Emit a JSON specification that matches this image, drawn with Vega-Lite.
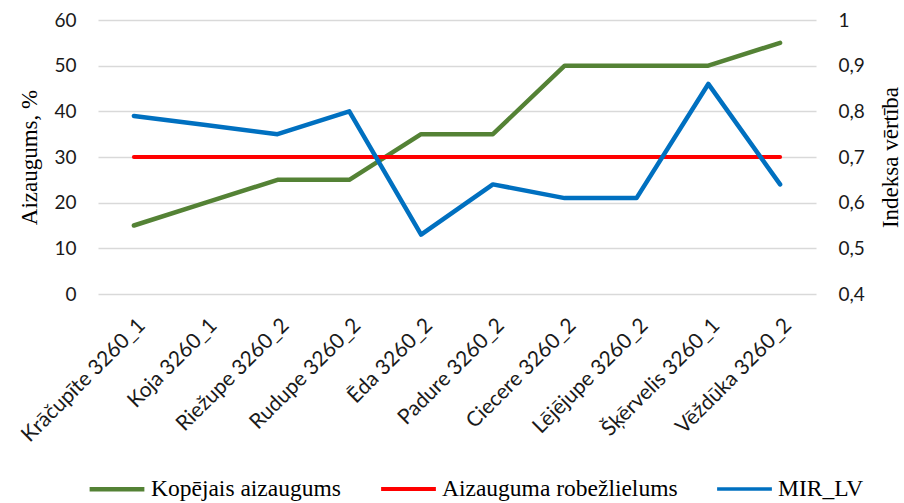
{
  "$schema": "https://vega.github.io/schema/vega-lite/v6.json",
  "autosize": {"type": "none"},
  "width": 718,
  "height": 274,
  "padding": {"left": 98, "top": 20, "right": 88, "bottom": 209},
  "background": "white",
  "data": {
    "values": [
      {"site": "Krāčupīte 3260_1", "series": "Kopējais aizaugums", "value": 15},
      {"site": "Koja 3260_1", "series": "Kopējais aizaugums", "value": 20},
      {"site": "Riežupe 3260_2", "series": "Kopējais aizaugums", "value": 25},
      {"site": "Rudupe 3260_2", "series": "Kopējais aizaugums", "value": 25},
      {"site": "Ēda 3260_2", "series": "Kopējais aizaugums", "value": 35},
      {"site": "Padure 3260_2", "series": "Kopējais aizaugums", "value": 35},
      {"site": "Ciecere 3260_2", "series": "Kopējais aizaugums", "value": 50},
      {"site": "Lējējupe 3260_2", "series": "Kopējais aizaugums", "value": 50},
      {"site": "Šķērvelis 3260_1", "series": "Kopējais aizaugums", "value": 50},
      {"site": "Vēždūka 3260_2", "series": "Kopējais aizaugums", "value": 55},
      {"site": "Krāčupīte 3260_1", "series": "Aizauguma robežlielums", "value": 30},
      {"site": "Koja 3260_1", "series": "Aizauguma robežlielums", "value": 30},
      {"site": "Riežupe 3260_2", "series": "Aizauguma robežlielums", "value": 30},
      {"site": "Rudupe 3260_2", "series": "Aizauguma robežlielums", "value": 30},
      {"site": "Ēda 3260_2", "series": "Aizauguma robežlielums", "value": 30},
      {"site": "Padure 3260_2", "series": "Aizauguma robežlielums", "value": 30},
      {"site": "Ciecere 3260_2", "series": "Aizauguma robežlielums", "value": 30},
      {"site": "Lējējupe 3260_2", "series": "Aizauguma robežlielums", "value": 30},
      {"site": "Šķērvelis 3260_1", "series": "Aizauguma robežlielums", "value": 30},
      {"site": "Vēždūka 3260_2", "series": "Aizauguma robežlielums", "value": 30},
      {"site": "Krāčupīte 3260_1", "series": "MIR_LV", "value": 0.79},
      {"site": "Koja 3260_1", "series": "MIR_LV", "value": 0.77},
      {"site": "Riežupe 3260_2", "series": "MIR_LV", "value": 0.75},
      {"site": "Rudupe 3260_2", "series": "MIR_LV", "value": 0.80},
      {"site": "Ēda 3260_2", "series": "MIR_LV", "value": 0.53},
      {"site": "Padure 3260_2", "series": "MIR_LV", "value": 0.64},
      {"site": "Ciecere 3260_2", "series": "MIR_LV", "value": 0.61},
      {"site": "Lējējupe 3260_2", "series": "MIR_LV", "value": 0.61},
      {"site": "Šķērvelis 3260_1", "series": "MIR_LV", "value": 0.86},
      {"site": "Vēždūka 3260_2", "series": "MIR_LV", "value": 0.64}
    ]
  },
  "config": {
    "view": {"stroke": null},
    "axis": {
      "domain": false,
      "ticks": false,
      "labelFont": "Lato",
      "labelColor": "#1a1a1a",
      "titleFont": "Liberation Serif",
      "titleFontWeight": "normal",
      "titleColor": "#000000",
      "titleFontSize": 23
    }
  },
  "layer": [
    {
      "transform": [{"filter": "datum.series !== 'MIR_LV'"}],
      "mark": {"type": "line", "strokeCap": "round", "strokeJoin": "round"},
      "encoding": {
        "x": {
          "field": "site",
          "type": "ordinal",
          "sort": null,
          "axis": {
            "title": null,
            "labelAngle": -45,
            "labelFontSize": 21,
            "labelPadding": 20,
            "grid": false
          }
        },
        "y": {
          "field": "value",
          "type": "quantitative",
          "scale": {"domain": [0, 60]},
          "axis": {
            "title": "Aizaugums, %",
            "values": [0, 10, 20, 30, 40, 50, 60],
            "labelFontSize": 19,
            "labelPadding": 22,
            "titlePadding": 12,
            "grid": true,
            "gridColor": "#D9D9D9",
            "gridWidth": 1.5
          }
        },
        "color": {
          "field": "series",
          "type": "nominal",
          "scale": {
            "domain": ["Kopējais aizaugums", "Aizauguma robežlielums", "MIR_LV"],
            "range": ["#548235", "#FF0000", "#0070C0"]
          },
          "legend": {
            "title": null,
            "orient": "none",
            "legendX": -11,
            "legendY": 439,
            "direction": "horizontal",
            "symbolType": "stroke",
            "symbolSize": 3000,
            "symbolStrokeWidth": 5,
            "labelFont": "Liberation Serif",
            "labelFontSize": 23.5,
            "labelColor": "#000000",
            "labelOffset": 4,
            "columnPadding": 32,
            "labelLimit": 400
          }
        },
        "strokeWidth": {
          "field": "series",
          "type": "nominal",
          "scale": {
            "domain": ["Kopējais aizaugums", "Aizauguma robežlielums", "MIR_LV"],
            "range": [4.5, 3.5, 4.5]
          },
          "legend": null
        }
      }
    },
    {
      "transform": [{"filter": "datum.series === 'MIR_LV'"}],
      "mark": {"type": "line", "strokeCap": "round", "strokeJoin": "round", "strokeWidth": 4.5},
      "encoding": {
        "x": {"field": "site", "type": "ordinal", "sort": null},
        "y": {
          "field": "value",
          "type": "quantitative",
          "scale": {"domain": [0.4, 1]},
          "axis": {
            "orient": "right",
            "title": "Indeksa vērtība",
            "titleAngle": 270,
            "values": [0.4, 0.5, 0.6, 0.7, 0.8, 0.9, 1],
            "labelExpr": "replace(format(datum.value, '.1~f'), '.', ',')",
            "labelFontSize": 19,
            "labelPadding": 22,
            "titlePadding": 38,
            "grid": false
          }
        },
        "color": {
          "field": "series",
          "type": "nominal",
          "scale": {
            "domain": ["Kopējais aizaugums", "Aizauguma robežlielums", "MIR_LV"],
            "range": ["#548235", "#FF0000", "#0070C0"]
          }
        }
      }
    }
  ],
  "resolve": {"scale": {"y": "independent"}}
}
